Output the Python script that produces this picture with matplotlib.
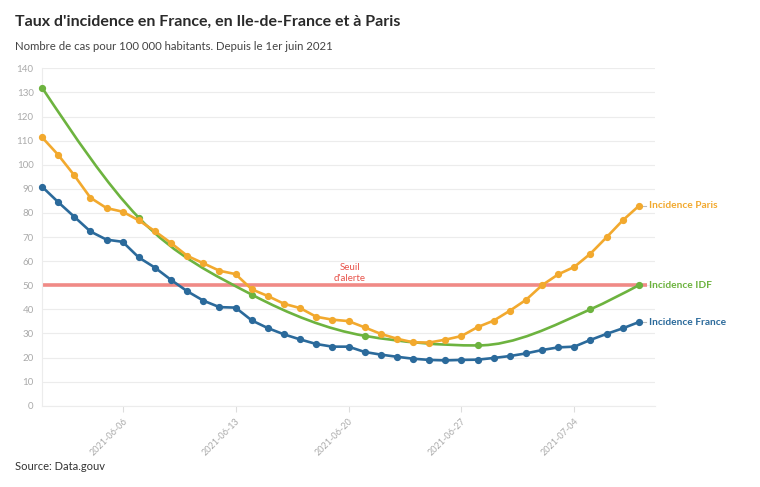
import numpy as np
import pandas as pd
import matplotlib
matplotlib.use('Agg')
import matplotlib.pyplot as plt
import matplotlib.dates as mdates
from matplotlib.path import Path
from matplotlib.patches import PathPatch

plt.rcParams['font.family'] = ['Lato', 'DejaVu Sans']

# Daten: Inzidenz pro 100 000 Einwohner, ab 1. Juni 2021
dates = pd.date_range('2021-06-01', '2021-07-08', freq='D')

france = [90.9, 84.5, 78.4, 72.3, 68.9, 68.0, 61.5, 57.3, 52.2, 47.5,
          43.6, 40.9, 40.7, 35.4, 32.2, 29.6, 27.5, 25.6, 24.5, 24.5,
          22.3, 21.2, 20.3, 19.5, 19.0, 18.8, 19.0, 19.1, 19.8, 20.6,
          21.7, 23.1, 24.2, 24.5, 27.3, 29.8, 32.1, 34.7]

paris = [111.4, 104.1, 95.6, 86.3, 82.0, 80.5, 76.9, 72.4, 67.5, 62.2,
         59.1, 56.0, 54.6, 48.3, 45.5, 42.3, 40.5, 36.9, 35.7, 35.1,
         32.5, 29.8, 27.8, 26.3, 26.2, 27.4, 28.9, 32.6, 35.3, 39.4,
         43.9, 50.0, 54.5, 57.6, 63.1, 69.9, 76.9, 82.9]

idf_dates = pd.to_datetime(['2021-06-01', '2021-06-07', '2021-06-14', '2021-06-21',
                            '2021-06-28', '2021-07-05', '2021-07-08'])
idf = [132.0, 78.0, 46.1, 29.0, 25.0, 40.0, 50.0]

seuil = 50

c_france = '#2b6a9b'
c_paris = '#f2a92e'
c_idf = '#6db33f'
c_seuil = '#f08a86'


def monotone_path(x, y):
    # Kurve wie d3.curveMonotoneX (Bezier-Segmente)
    x = np.asarray(x, float)
    y = np.asarray(y, float)
    n = len(x)
    h = np.diff(x)
    s = np.diff(y) / h
    t = np.zeros(n)
    for i in range(1, n - 1):
        if s[i-1] * s[i] <= 0:
            t[i] = 0
        else:
            p = (s[i-1] * h[i] + s[i] * h[i-1]) / (h[i-1] + h[i])
            t[i] = (np.sign(s[i-1]) + np.sign(s[i])) * min(abs(s[i-1]), abs(s[i]), 0.5 * abs(p))
    t[0] = (3 * s[0] - t[1]) / 2
    t[-1] = (3 * s[-1] - t[-2]) / 2
    verts = [(x[0], y[0])]
    codes = [Path.MOVETO]
    for i in range(n - 1):
        d = h[i] / 3
        verts += [(x[i] + d, y[i] + t[i] * d), (x[i+1] - d, y[i+1] - t[i+1] * d), (x[i+1], y[i+1])]
        codes += [Path.CURVE4] * 3
    return Path(verts, codes)


fig = plt.figure(figsize=(7.6, 4.87), dpi=100)
ax = fig.add_axes([42 / 760, 1 - 405.7 / 487, 613 / 760, 337.4 / 487])

xd = mdates.date2num(dates)
xi = mdates.date2num(idf_dates)

# Seuil d'alerte
ax.plot([xd[0], xd[-1] + 0.5], [seuil, seuil], color=c_seuil, lw=2.6, zorder=2,
        solid_capstyle='butt', clip_on=False)
ax.text(mdates.date2num(pd.Timestamp('2021-06-20')) + 0.1, seuil + 0.9, "Seuil\nd'alerte",
        color='#e8534a', fontsize=7, ha='center', va='bottom', linespacing=1.3)

# IDF als glatte Kurve
ax.add_patch(PathPatch(monotone_path(xi, idf), facecolor='none', edgecolor=c_idf,
                       lw=1.9, zorder=3, clip_on=False))
ax.plot(xi, idf, 'o', color=c_idf, ms=4.2, zorder=4, clip_on=False)

ax.plot(xd, paris, '-o', color=c_paris, lw=1.9, ms=4.2, zorder=5, clip_on=False)
ax.plot(xd, france, '-o', color=c_france, lw=1.9, ms=4.2, zorder=5, clip_on=False)

# Beschriftungen rechts
for val, label, col in [(paris[-1], 'Incidence Paris', c_paris),
                        (idf[-1], 'Incidence IDF', c_idf),
                        (france[-1], 'Incidence France', c_france)]:
    ax.annotate(label, xy=(xd[-1], val), xytext=(7.3, 0), textcoords='offset points',
                color=col, fontsize=7.3, fontweight='bold', va='center', ha='left',
                annotation_clip=False)
    ax.plot([xd[-1] + 0.25, xd[-1] + 0.42], [val, val], color='#bbbbbb', lw=0.8,
            clip_on=False, zorder=1)

ax.set_xlim(xd[0], xd[-1] + 1)
ax.set_ylim(0, 140)
ax.set_yticks(np.arange(0, 141, 10))
ax.grid(axis='y', color='#ececec', lw=0.8)
ax.set_axisbelow(True)

ax.xaxis.set_major_locator(mdates.WeekdayLocator(byweekday=mdates.SU))
ax.xaxis.set_major_formatter(mdates.DateFormatter('%Y-%m-%d'))
for lab in ax.get_xticklabels():
    lab.set_rotation(45)
    lab.set_ha('right')
    lab.set_rotation_mode('anchor')

ax.tick_params(axis='x', colors='#dddddd', labelcolor='#aaaaaa', labelsize=6.5,
               length=4, width=0.8, pad=4)
ax.tick_params(axis='y', length=0, labelcolor='#aaaaaa', labelsize=7, pad=6)

for side in ['top', 'right']:
    ax.spines[side].set_visible(False)
ax.spines['left'].set_color('#ececec')
ax.spines['bottom'].set_color('#ececec')
ax.spines['left'].set_linewidth(0.8)
ax.spines['bottom'].set_linewidth(0.8)

fig.text(15 / 760, 1 - 22 / 487, "Taux d'incidence en France, en Ile-de-France et à Paris",
         fontsize=11.5, fontweight='bold', color='#2a2a2a', va='center', ha='left')
fig.text(15 / 760, 1 - 46 / 487, "Nombre de cas pour 100 000 habitants. Depuis le 1er juin 2021",
         fontsize=8.2, color='#444444', va='center', ha='left')
fig.text(15 / 760, 1 - 467 / 487, "Source: Data.gouv",
         fontsize=8, color='#333333', va='center', ha='left')

fig.savefig('out.png', dpi=100)
